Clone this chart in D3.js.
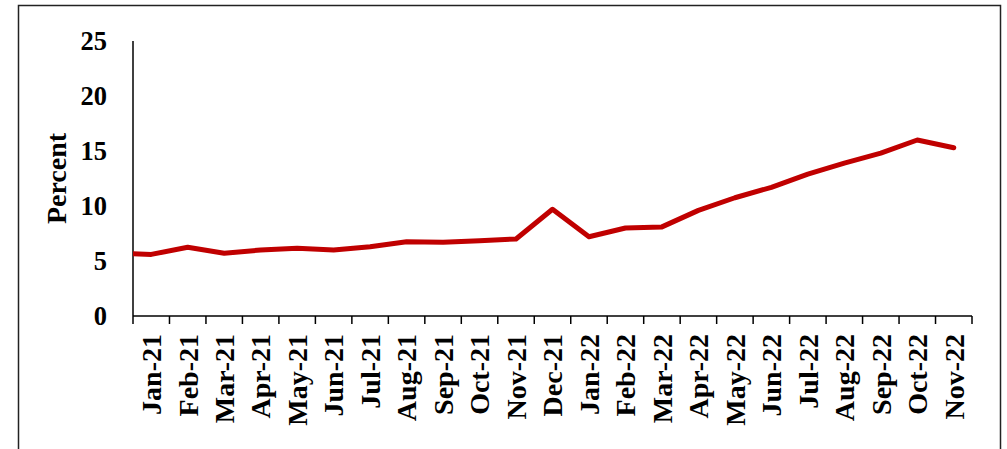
<!DOCTYPE html>
<html>
<head>
<meta charset="utf-8">
<script src="https://cdn.jsdelivr.net/npm/d3@7"></script>
<style>
  html, body { margin: 0; padding: 0; background: #fff; }
  svg text { font-family: "Liberation Serif", "DejaVu Serif", serif; font-weight: bold; fill: #000; }
</style>
</head>
<body>
<svg id="chart" width="1007" height="449"></svg>
<script>
// Monthly values, Jan-21 .. Nov-22
const months = ["Jan-21", "Feb-21", "Mar-21", "Apr-21", "May-21", "Jun-21", "Jul-21", "Aug-21",
  "Sep-21", "Oct-21", "Nov-21", "Dec-21", "Jan-22", "Feb-22", "Mar-22", "Apr-22", "May-22",
  "Jun-22", "Jul-22", "Aug-22", "Sep-22", "Oct-22", "Nov-22"];
const percent = [5.6, 6.25, 5.7, 6.0, 6.15, 6.0, 6.3, 6.75, 6.7, 6.85, 7.0, 9.7, 7.2, 8.0, 8.1,
  9.6, 10.75, 11.7, 12.9, 13.9, 14.8, 16.0, 15.3];
// the series comes in from the month before the first label (cut at the axis)
const priorValue = 5.7;
const yTicks = [0, 5, 10, 15, 20, 25];

const svg = d3.select("#chart");

// plot area
const plotLeft = 133, plotRight = 972, plotTop = 41, plotBottom = 316;

// outer frame (bottom edge runs past the picture)
svg.append("rect")
  .attr("x", 18.5).attr("y", 5.5)
  .attr("width", 982).attr("height", 470)
  .attr("fill", "none").attr("stroke", "#222").attr("stroke-width", 1.5);

const x = d3.scaleBand().domain(months).range([plotLeft, plotRight]).padding(0);
const y = d3.scaleLinear().domain([0, 25]).range([plotBottom, plotTop]);
const bw = x.bandwidth();

// y axis: line and labels, no tick marks
svg.append("line")
  .attr("x1", plotLeft).attr("x2", plotLeft).attr("y1", y(25)).attr("y2", plotBottom)
  .attr("stroke", "#000").attr("stroke-width", 1.5);

svg.selectAll(".ylab").data(yTicks).enter().append("text")
  .attr("class", "ylab")
  .attr("x", 107).attr("y", (d) => y(d))
  .attr("dy", "0.35em")
  .attr("text-anchor", "end")
  .style("font-size", "26.5px")
  .text((d) => d);

svg.append("text")
  .attr("transform", `translate(66, ${(plotTop + plotBottom) / 2}) rotate(-90)`)
  .attr("text-anchor", "middle")
  .style("font-size", "28px")
  .text("Percent");

// x axis: line, ticks between categories, rotated labels
svg.append("line")
  .attr("x1", plotLeft).attr("x2", plotRight).attr("y1", plotBottom).attr("y2", plotBottom)
  .attr("stroke", "#000").attr("stroke-width", 1.5);

const edges = months.map((m) => x(m)).concat([plotRight]);
svg.selectAll(".xtick").data(edges).enter().append("line")
  .attr("class", "xtick")
  .attr("x1", (d) => d).attr("x2", (d) => d)
  .attr("y1", plotBottom).attr("y2", plotBottom + 8)
  .attr("stroke", "#000").attr("stroke-width", 1.5);

svg.selectAll(".xlab").data(months).enter().append("text")
  .attr("class", "xlab")
  .attr("transform", (d) => `translate(${x(d) + bw / 2}, 334) rotate(-90)`)
  .attr("dy", "0.35em")
  .attr("text-anchor", "end")
  .style("font-size", "28px")
  .text((d) => d);

// the line, clipped to the plot area
svg.append("clipPath").attr("id", "plotClip")
  .append("rect")
  .attr("x", plotLeft).attr("y", 0)
  .attr("width", plotRight - plotLeft).attr("height", plotBottom);

const pts = [{ cx: x(months[0]) - bw / 2, v: priorValue }].concat(
  months.map((m, i) => ({ cx: x(m) + bw / 2, v: percent[i] }))
);

const line = d3.line().x((d) => d.cx).y((d) => y(d.v));

svg.append("path")
  .datum(pts)
  .attr("clip-path", "url(#plotClip)")
  .attr("d", line)
  .attr("fill", "none")
  .attr("stroke", "#C00000")
  .attr("stroke-width", 5)
  .attr("stroke-linejoin", "round")
  .attr("stroke-linecap", "round");
</script>
</body>
</html>
